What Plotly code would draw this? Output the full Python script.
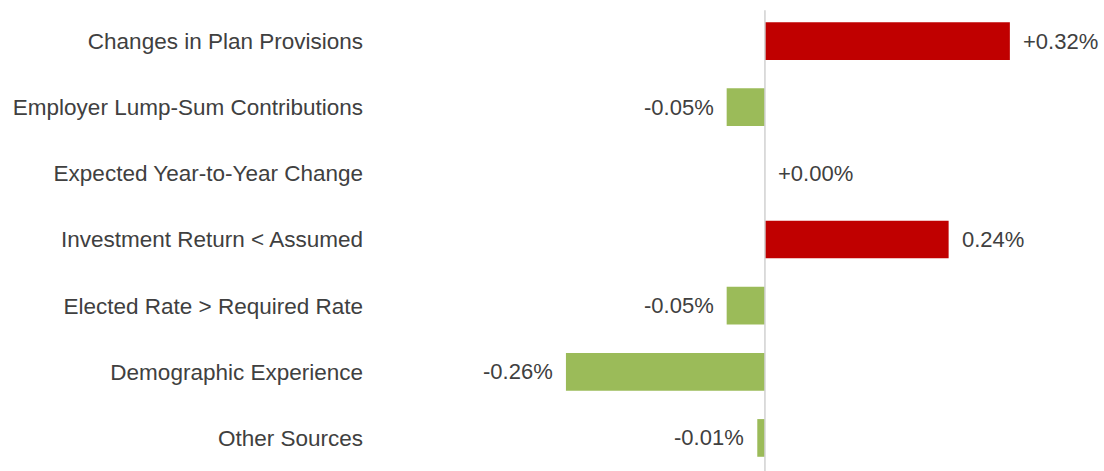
import plotly.graph_objects as go

categories = ["Changes in Plan Provisions", "Employer Lump-Sum Contributions",
              "Expected Year-to-Year Change", "Investment Return < Assumed",
              "Elected Rate > Required Rate", "Demographic Experience", "Other Sources"]
values = [0.32, -0.05, 0.0, 0.24, -0.05, -0.26, -0.01]
labels = ["+0.32%", "-0.05%", "+0.00%", "0.24%", "-0.05%", "-0.26%", "-0.01%"]

RED = "#C00000"
GREEN = "#9BBB59"
colors = [RED if v > 0 else GREEN for v in values]
FONT = "Liberation Sans, Arial, sans-serif"
TXT = "#404040"

fig = go.Figure(go.Bar(
    y=categories, x=values, orientation="h",
    marker=dict(color=colors, line=dict(width=0)),
    width=0.57, hoverinfo="skip",
))

annotations = []
for c, v, t in zip(categories, values, labels):
    annotations.append(dict(
        x=v, y=c, xref="x", yref="y", text=t, showarrow=False,
        xanchor="right" if v < 0 else "left",
        xshift=-11 if v < 0 else 11,
        font=dict(family=FONT, size=22, color=TXT),
    ))

fig.update_layout(
    width=1104, height=471,
    margin=dict(l=370, r=0, t=8, b=0),
    paper_bgcolor="white", plot_bgcolor="white",
    showlegend=False,
    annotations=annotations,
    shapes=[dict(type="line", xref="x", yref="paper", x0=0, x1=0, y0=0.0, y1=0.995,
                 line=dict(color="#D0D0D0", width=1.5))],
)
fig.update_xaxes(range=[-0.516, 0.443], visible=False, showgrid=False, zeroline=False)
fig.update_yaxes(autorange="reversed", showgrid=False, zeroline=False,
                 tickfont=dict(family=FONT, size=22.5, color=TXT),
                 ticks="", ticklabelstandoff=6)

fig.write_html(
    "out.html",
    config={"displayModeBar": False},
    post_script="document.documentElement.style.overflow='hidden';document.body.style.overflow='hidden';document.body.style.margin='0';",
)
